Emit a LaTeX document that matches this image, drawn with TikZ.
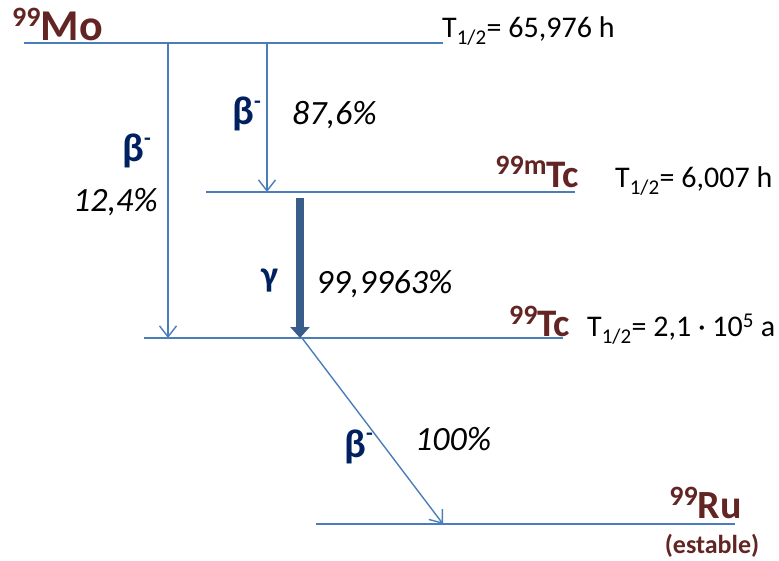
\documentclass[tikz,border=0pt]{standalone}
\usepackage{fontspec}
\setmainfont{Carlito}
\usetikzlibrary{arrows.meta}
\definecolor{lvl}{HTML}{4A7EBB}
\definecolor{nuc}{HTML}{632523}
\definecolor{part}{HTML}{002060}
\definecolor{gam}{HTML}{385D8A}
\newcommand\massno[3]{\raisebox{#2}{\fontsize{#1}{#1}\selectfont #3}}
\newcommand\betam{β\raisebox{0.42em}{\fontsize{22}{22}\selectfont -}}
\begin{document}
\begin{tikzpicture}[x=1pt,y=-1pt,
  levelline/.style={draw=lvl,line width=1.8pt},
  decay/.style={draw=lvl,line width=1.4pt,-{Straight Barb[length=11pt,width=17pt,line width=1.4pt]}},
  gammaarrow/.style={draw=gam,line width=8pt,-{Triangle[length=11pt,width=19pt]}},
  nucl/.style={inner sep=0pt,text=nuc,font=\bfseries},
  halflife/.style={inner sep=0pt,anchor=base west,font=\fontsize{30}{32}\selectfont},
  particle/.style={inner sep=0pt,anchor=base west,text=part,font=\fontsize{40}{42}\selectfont\bfseries},
  ratio/.style={inner sep=0pt,anchor=base west,font=\fontsize{34}{36}\selectfont\itshape}]
\useasboundingbox (0,0) rectangle (779,561);
% levels
\coordinate (moL) at (24,43);   \coordinate (moR) at (443,43);
\coordinate (tcmL) at (206,192); \coordinate (tcmR) at (575,192);
\coordinate (tcL) at (144,338);  \coordinate (tcR) at (563,338);
\coordinate (ruL) at (316,524);  \coordinate (ruR) at (735,524);
\draw[levelline] (moL) -- (moR);
\draw[levelline] (tcmL) -- (tcmR);
\draw[levelline] (tcL) -- (tcR);
\draw[levelline] (ruL) -- (ruR);
% arrow ends
\coordinate (a1s) at (168,43);  \coordinate (a1e) at (168,338);
\coordinate (a2s) at (267,43);  \coordinate (a2e) at (267,192);
\coordinate (gs) at (300,198);  \coordinate (ge) at (300,338);
\coordinate (a3s) at (302,338); \coordinate (a3e) at (443,524);
\draw[decay] (a1s) -- (a1e);
\draw[decay] (a2s) -- (a2e);
\draw[gammaarrow] (gs) -- (ge);
\draw[decay] (a3s) -- (a3e);
% nuclide labels
\node[nucl,anchor=base west,font=\fontsize{44}{46}\selectfont\bfseries] (mo) at (12,41) {\massno{28}{14pt}{99}Mo};
\node[nucl,anchor=base east,font=\fontsize{39}{41}\selectfont\bfseries] (tcm) at (579,188) {\massno{28}{13pt}{99m}Tc};
\node[nucl,anchor=base east,font=\fontsize{39}{41}\selectfont\bfseries] (tc) at (570,337) {\massno{28}{13pt}{99}Tc};
\node[nucl,anchor=base east,font=\fontsize{40}{42}\selectfont\bfseries] (ru) at (742,518) {\massno{28}{13pt}{99}Ru};
\node[nucl,anchor=base,font=\fontsize{26}{28}\selectfont\bfseries] (est) at (712,553) {(estable)};
% half-lives
\node[halflife] (hmo) at (442,38) {T\textsubscript{1/2}= 65,976 h};
\node[halflife] (htcm) at (615,188) {T\textsubscript{1/2}= 6,007 h};
\node[halflife] (htc) at (587,337) {T\textsubscript{1/2}= 2,1 · 10\textsuperscript{5} a};
% decay labels
\node[particle] (b1) at (122,162) {\betam};
\node[ratio] (r1) at (73,212) {12,4\%};
\node[particle] (b2) at (232,125) {\betam};
\node[ratio] (r2) at (292,125) {87,6\%};
\node[particle,font=\fontsize{36}{38}\selectfont\bfseries] (g) at (261,287) {γ};
\node[ratio] (r3) at (316,294) {99,9963\%};
\node[particle] (b3) at (344,457) {\betam};
\node[ratio] (r4) at (415,450) {100\%};
\end{tikzpicture}
\end{document}
